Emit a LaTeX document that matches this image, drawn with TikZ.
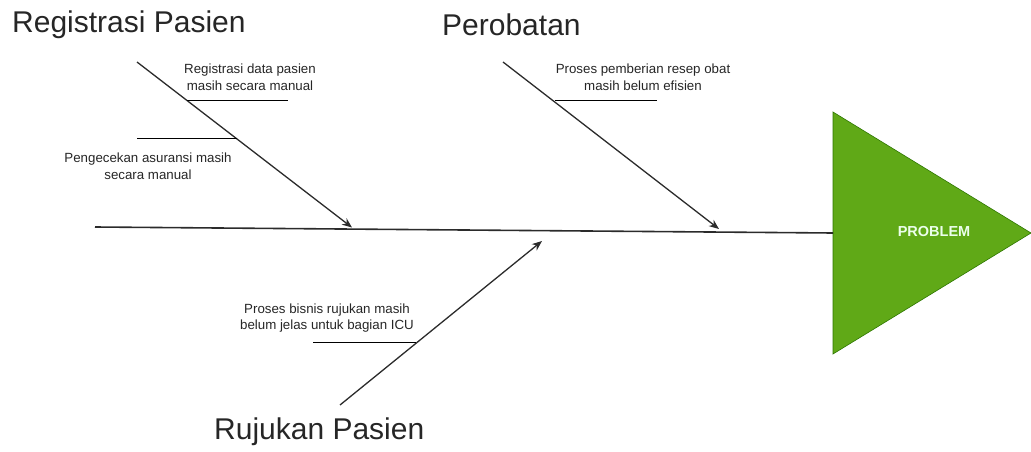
\documentclass[tikz,border=0pt]{standalone}
\usepackage{fontspec}
\setmainfont{Liberation Sans}
\usetikzlibrary{arrows.meta}
\definecolor{probgreen}{HTML}{60A917}
\definecolor{probstroke}{HTML}{2D7600}
\definecolor{linegray}{HTML}{2B2B2B}
\tikzset{
  title/.style={font=\fontsize{30}{34}\selectfont, text=black!85, inner sep=0pt},
  cause/.style={font=\fontsize{13.3}{16.5}\selectfont, text=black!85, align=center, inner sep=0pt},
  bone/.style={draw=linegray, line width=1.3pt, -{Stealth[length=10pt,width=8pt]}},
  subline/.style={draw=black, line width=0.9pt},
  spine/.style={draw=linegray, line width=1.6pt},
}
\begin{document}
\begin{tikzpicture}[x=1pt,y=-1pt]
\useasboundingbox (0,0) rectangle (1031,452);
% titles
\node[title, anchor=west] (t1) at (12,25) {Registrasi Pasien};
\node[title, anchor=west] (t2) at (442,25) {Perobatan};
\node[title, anchor=west] (t3) at (214,432) {Rujukan Pasien};
% problem head
\coordinate (h1) at (833,112);
\coordinate (h2) at (833,354);
\coordinate (h3) at (1031,233);
\fill[probgreen, draw=probstroke, line width=0.6pt] (h1) -- (h3) -- (h2) -- cycle;
\node[font=\bfseries\fontsize{14.5}{16}\selectfont, text=white!92!green] (prob) at (934,232) {PROBLEM};
% spine
\coordinate (s0) at (95,227);
\coordinate (s1) at (833,233);
\draw[spine] (s0) -- (s1);
% bones
\coordinate (b1s) at (137,62);
\coordinate (b1e) at (352,227.5);
\draw[bone] (b1s) -- (b1e);
\coordinate (b2s) at (503,62);
\coordinate (b2e) at (719,229);
\draw[bone] (b2s) -- (b2e);
\coordinate (b3s) at (340,405);
\coordinate (b3e) at (542,241);
\draw[bone] (b3s) -- (b3e);
% sub-cause lines
\coordinate (u1a) at (187,100); \coordinate (u1b) at (288,100);
\draw[subline] (u1a) -- (u1b);
\coordinate (u2a) at (137,138); \coordinate (u2b) at (237,138);
\draw[subline] (u2a) -- (u2b);
\coordinate (u3a) at (555,100); \coordinate (u3b) at (657,100);
\draw[subline] (u3a) -- (u3b);
\coordinate (u4a) at (313,342); \coordinate (u4b) at (416,342);
\draw[subline] (u4a) -- (u4b);
% cause texts
\node[cause] (c1) at (250,77) {Registrasi data pasien\\masih secara manual};
\node[cause] (c2) at (148,166) {Pengecekan asuransi masih\\secara manual};
\node[cause] (c3) at (643,77) {Proses pemberian resep obat\\masih belum efisien};
\node[cause] (c4) at (327,318) {Proses bisnis rujukan masih\\belum jelas untuk bagian ICU};
\end{tikzpicture}
\end{document}
